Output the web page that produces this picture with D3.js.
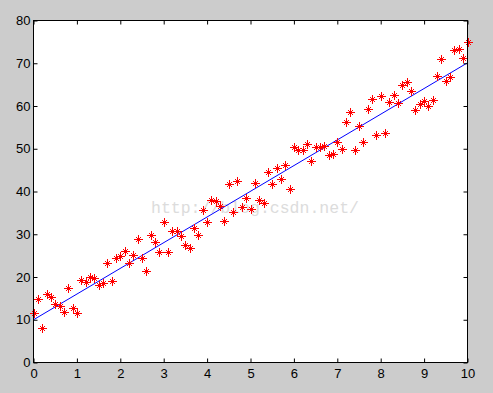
<!DOCTYPE html>
<html>
<head>
<meta charset="utf-8">
<script src="https://cdn.jsdelivr.net/npm/d3@7"></script>
<style>
  body { margin: 0; background: #cccccc; }
  svg { display: block; }
  .tick text { font-family: "Liberation Sans", Arial, sans-serif; font-size: 13px; fill: #000; }
</style>
</head>
<body>
<script>
var width = 493;
var height = 393;

// sample positions and measured values
var xs = d3.range(0, 101).map(function(i) { return i / 10; });
var ys = [11.6, 14.9, 8.0, 16.1, 15.4, 13.7, 13.1, 11.7, 17.4, 12.8,
          11.6, 19.3, 18.9, 20.0, 19.8, 18.1, 18.6, 23.3, 19.1, 24.4,
          24.8, 26.0, 23.3, 25.2, 28.8, 24.4, 21.3, 29.8, 28.1, 25.8,
          32.9, 25.9, 30.8, 30.8, 29.5, 27.6, 26.8, 31.5, 29.8, 35.7,
          32.8, 38.1, 37.7, 36.7, 33.1, 41.7, 35.2, 42.4, 36.4, 38.4,
          36.0, 42.1, 38.1, 37.4, 44.6, 41.7, 45.4, 42.9, 46.2, 40.7,
          50.3, 49.8, 49.8, 51.0, 47.2, 50.3, 50.5, 50.6, 48.6, 48.8,
          51.6, 50.0, 56.3, 58.7, 49.7, 55.3, 51.6, 59.3, 61.7, 53.1,
          62.4, 53.7, 61.0, 62.5, 60.8, 64.9, 65.7, 63.6, 59.1, 60.5,
          61.1, 60.0, 61.3, 67.0, 70.9, 65.8, 66.9, 73.1, 73.3, 71.2,
          75.0];

// fitted line endpoints
var fitX = [0, 10];
var fitY = [10.0, 70.1];

var xTicks = [0, 1, 2, 3, 4, 5, 6, 7, 8, 9, 10];
var yTicks = [0, 10, 20, 30, 40, 50, 60, 70, 80];

var holder = d3.select("body")
    .append("svg")
    .attr("width", width)
    .attr("height", height);

var x = d3.scaleLinear().domain([0, 10]).range([33.5, 467.5]);
var y = d3.scaleLinear().domain([0, 80]).range([362.5, 20.5]);

// white axes area
holder.append("rect")
    .attr("x", x(0))
    .attr("y", y(80))
    .attr("width", x(10) - x(0))
    .attr("height", y(0) - y(80))
    .style("fill", "#fff");

// watermark
holder.append("text")
    .attr("x", 151)
    .attr("y", 213)
    .style("font-family", "'Liberation Mono', 'Courier New', monospace")
    .style("font-size", "16.5px")
    .style("fill", "#dcdcdc")
    .text("http://blog.csdn.net/");

// fit line
holder.append("line")
    .attr("x1", x(fitX[0]))
    .attr("y1", y(fitY[0]))
    .attr("x2", x(fitX[1]))
    .attr("y2", y(fitY[1]))
    .style("stroke", "#0000ff")
    .style("stroke-width", 1);

// star markers
holder.append("g")
    .selectAll("path")
    .data(ys)
    .enter()
    .append("path")
    .attr("transform", function(d, i) {
        return "translate(" + Math.round(x(xs[i])) + "," + Math.round(y(d)) + ")";
    })
    .attr("d", "M-4,0.5H5M0.5,-4V5M-2,-2L3,3M-2,3L3,-2")
    .style("fill", "none")
    .style("stroke", "#ff0000")
    .style("stroke-width", 1);

// axes
var bottom = holder.append("g")
    .attr("transform", "translate(0," + y(0) + ")")
    .call(d3.axisBottom(x).tickValues(xTicks).tickSizeInner(-4).tickSizeOuter(0).tickPadding(6));

holder.append("g")
    .attr("transform", "translate(0," + y(80) + ")")
    .call(d3.axisTop(x).tickValues(xTicks).tickSizeInner(-4).tickSizeOuter(0).tickFormat(""));

holder.append("g")
    .attr("transform", "translate(" + x(0) + ",0)")
    .call(d3.axisLeft(y).tickValues(yTicks).tickSizeInner(-4).tickSizeOuter(0).tickPadding(3));

holder.append("g")
    .attr("transform", "translate(" + x(10) + ",0)")
    .call(d3.axisRight(y).tickValues(yTicks).tickSizeInner(-4).tickSizeOuter(0).tickFormat(""));

holder.selectAll(".domain").remove();
holder.selectAll(".tick line").style("stroke", "#000");

// box
holder.append("rect")
    .attr("x", x(0))
    .attr("y", y(80))
    .attr("width", x(10) - x(0))
    .attr("height", y(0) - y(80))
    .style("fill", "none")
    .style("stroke", "#000")
    .style("stroke-width", 1);
</script>
</body>
</html>
